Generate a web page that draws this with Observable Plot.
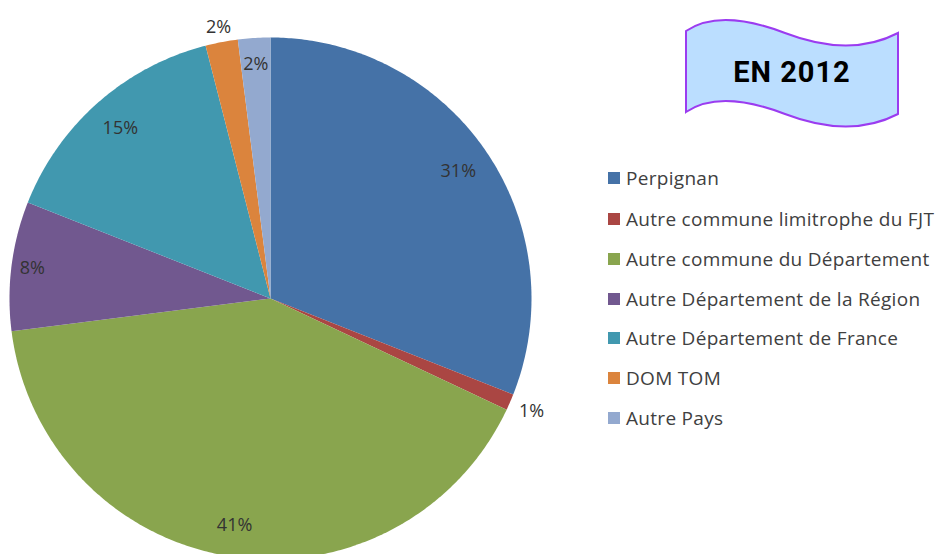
<!DOCTYPE html>
<html>
<head>
<meta charset="utf-8">
<script src="https://cdn.jsdelivr.net/npm/d3@7"></script>
<script src="https://cdn.jsdelivr.net/npm/@observablehq/plot@0.6"></script>
<style>
  html, body { margin: 0; padding: 0; background: #fff; }
  #wrap { position: relative; width: 936px; height: 554px; overflow: hidden; }
  #legend { position: absolute; left: 608px; top: 0; font-family: "Open Sans", Lato, sans-serif; font-size: 19px; letter-spacing: 0.3px; color: #404040; }
  .row { position: absolute; left: 0; white-space: nowrap; display: flex; align-items: center; height: 20px; }
  .sw { width: 12px; height: 12px; margin-right: 6px; flex: none; }
  #banner { position: absolute; left: 0; top: 0; pointer-events: none; }
</style>
</head>
<body>
<div id="wrap"></div>
<script>
// ---- data ----
const categories = [
  "Perpignan",
  "Autre commune limitrophe du FJT",
  "Autre commune du Département",
  "Autre Département de la Région",
  "Autre Département de France",
  "DOM TOM",
  "Autre Pays"
];
const values = [31, 1, 41, 8, 15, 2, 2];
const colors = ["#4572A7", "#AA4643", "#89A54E", "#71588F", "#4198AF", "#DB843D", "#93A9CF"];
const title = "EN 2012";

// ---- style: label radius (fraction of pie radius) ----
const labelRadius = [0.87, 1.09, 0.88, 0.92, 0.87, 1.06, 0.9];

// pie geometry in unit space
const arcs = d3.pie().sort(null).startAngle(0).endAngle(2 * Math.PI)(values);
const slices = [];
arcs.forEach((a, i) => {
  slices.push({cat: categories[i], x: 0, y: 0});
  const n = Math.max(2, Math.ceil((a.endAngle - a.startAngle) / 0.01));
  for (let k = 0; k <= n; k++) {
    const t = a.startAngle + (a.endAngle - a.startAngle) * k / n;
    slices.push({cat: categories[i], x: Math.sin(t), y: Math.cos(t)});
  }
});
const labels = arcs.map((a, i) => {
  const m = (a.startAngle + a.endAngle) / 2;
  return {x: labelRadius[i] * Math.sin(m), y: labelRadius[i] * Math.cos(m), text: values[i] + "%"};
});

const cx = 270, cy = 298, R = 261;
const chart = Plot.plot({
  width: 936,
  height: 554,
  margin: 0,
  x: {domain: [-1, 1], range: [cx - R, cx + R], axis: null},
  y: {domain: [-1, 1], range: [cy + R, cy - R], axis: null},
  color: {domain: categories, range: colors},
  style: {fontFamily: "'Open Sans', Lato, sans-serif", background: "transparent"},
  marks: [
    Plot.line(slices, {x: "x", y: "y", z: "cat", fill: "cat", stroke: "none", curve: "linear-closed"}),
    Plot.text(labels, {x: "x", y: "y", text: "text", fontSize: 18, fill: "#333333"})
  ]
});

const wrap = document.getElementById("wrap");
wrap.appendChild(chart);

// legend
const legend = document.createElement("div");
legend.id = "legend";
const rowY = [178, 219, 259, 299, 338, 378, 418];
categories.forEach((c, i) => {
  const r = document.createElement("div");
  r.className = "row";
  r.style.top = (rowY[i] - 10) + "px";
  r.innerHTML = `<span class="sw" style="background:${colors[i]}"></span><span>${c}</span>`;
  legend.appendChild(r);
});
wrap.appendChild(legend);

// banner
const b = d3.create("svg").attr("id", "banner").attr("width", 936).attr("height", 554);
b.append("path")
  .attr("d", "M686,31 Q720,8 785,33 T898,33 L898,114 Q850,139 785,114 T686,112 Z")
  .attr("fill", "#BBDEFF").attr("stroke", "#9B3CF0").attr("stroke-width", 2);
b.append("text").attr("x", 792).attr("y", 72).attr("text-anchor", "middle").attr("dy", "0.36em")
  .attr("font-family", "Roboto, sans-serif").attr("font-weight", "bold").attr("font-size", 29)
  .attr("letter-spacing", 1).attr("fill", "#000").text(title);
wrap.appendChild(b.node());
</script>
</body>
</html>
